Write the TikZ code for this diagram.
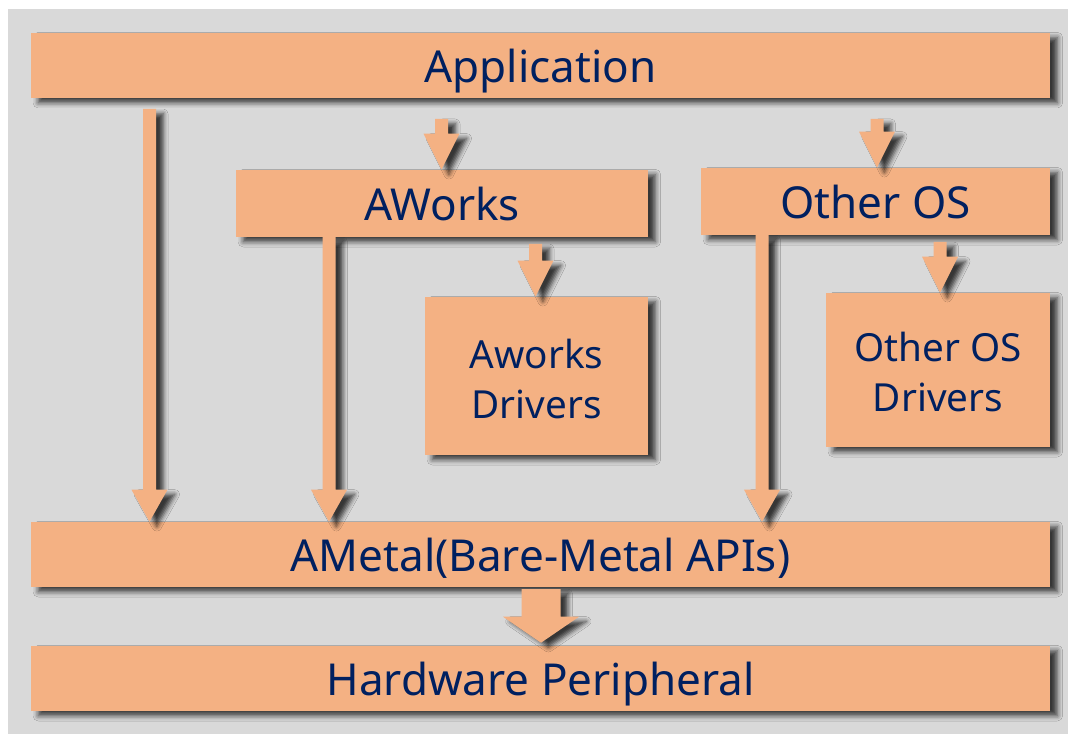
\documentclass[tikz,border=0pt]{standalone}
\usepackage{fontspec}
\setmainfont{Noto Sans}
\usetikzlibrary{calc,shadows.blur}

\definecolor{bggray}{RGB}{217,217,217}
\definecolor{boxorange}{RGB}{244,177,131}
\definecolor{textnavy}{RGB}{0,32,96}

\tikzset{
  layer/.style={fill=boxorange, text=textnavy, inner sep=0pt,
    blur shadow={shadow xshift=5.5pt, shadow yshift=-3.5pt, shadow blur radius=4pt, shadow opacity=75}},
  bigtext/.style={font=\fontsize{33}{38}\selectfont, text height=29.5pt, text depth=3.8pt},
  smalltext/.style={align=center, font=\fontsize{29}{37.5}\selectfont},
  arrowfill/.style={fill=boxorange,
    blur shadow={shadow xshift=5.5pt, shadow yshift=-3.5pt, shadow blur radius=3.5pt, shadow opacity=75}}
}

% block arrow: from, tip, half shaft, half head, head length (in px)
\newcommand{\blockarrow}[5]{%
  \fill[arrowfill] ($(#1 -| #2)+(-#3,0)$) -- ($(#1 -| #2)+(#3,0)$)
    -- ($(#2)+(#3,-#5)$) -- ($(#2)+(#4,-#5)$) -- (#2)
    -- ($(#2)+(-#4,-#5)$) -- ($(#2)+(-#3,-#5)$) -- cycle;
}

\begin{document}
\begin{tikzpicture}[x=0.75pt,y=0.75pt,yscale=-1,xscale=1]
\useasboundingbox (0,0) rectangle (1068,734);

% Background
\fill[bggray] (8,9) rectangle (1068,734);

% Shape: Rectangle
\node[layer,bigtext,minimum width=764.25pt,minimum height=48.75pt] (app) at (540.5,65.5) {Application};
% Shape: Rectangle
\node[layer,bigtext,minimum width=309pt,minimum height=50.25pt] (aworks) at (442,203.5) {AWorks};
% Shape: Rectangle
\node[layer,bigtext,minimum width=261.75pt,minimum height=50.25pt] (otheros) at (875.5,201.5) {Other OS};
% Shape: Rectangle
\node[layer,smalltext,minimum width=167.25pt,minimum height=118.5pt] (awdrv) at (536.5,376) {\rule{0pt}{26pt}Aworks\\Drivers};
% Shape: Rectangle
\node[layer,smalltext,minimum width=168pt,minimum height=115.5pt] (osdrv) at (938,370) {\rule{0pt}{25pt}Other OS\\Drivers};
% Shape: Rectangle
\node[layer,bigtext,minimum width=764.25pt,minimum height=48.75pt] (ametal) at (540.5,554.5) {AMetal(Bare-Metal APIs)};
% Shape: Rectangle
\node[layer,bigtext,minimum width=764.25pt,minimum height=48.75pt] (hw) at (540.5,678.5) {Hardware Peripheral};

% Arrow start points
\coordinate (s1) at (149.5,109);
\coordinate (s2) at (441.5,119);
\coordinate (s3) at (877,119);
\coordinate (s4) at (329,237);
\coordinate (s5) at (762,235);
\coordinate (s6) at (535.5,244);
\coordinate (s7) at (940,242);
\coordinate (s8) at (541,589);
% Arrow tips
\coordinate (t1) at (s1 |- ametal.north);
\coordinate (t2) at (s2 |- aworks.north);
\coordinate (t3) at (s3 |- otheros.north);
\coordinate (t4) at (s4 |- ametal.north);
\coordinate (t5) at (s5 |- ametal.north);
\coordinate (t6) at (s6 |- awdrv.north);
\coordinate (t7) at (s7 |- osdrv.north);
\coordinate (t8) at ($(s8 |- hw.north)+(0,-3)$);

% Arrows
\blockarrow{s1}{t1}{6.5}{18}{32}
\blockarrow{s4}{t4}{6.5}{18}{32}
\blockarrow{s5}{t5}{6.5}{18}{32}
\blockarrow{s2}{t2}{6.5}{18}{36}
\blockarrow{s3}{t3}{6.5}{18}{36}
\blockarrow{s6}{t6}{6.5}{18}{36}
\blockarrow{s7}{t7}{6.5}{18}{36}
\blockarrow{s8}{t8}{19.5}{38}{26}

\end{tikzpicture}
\end{document}
